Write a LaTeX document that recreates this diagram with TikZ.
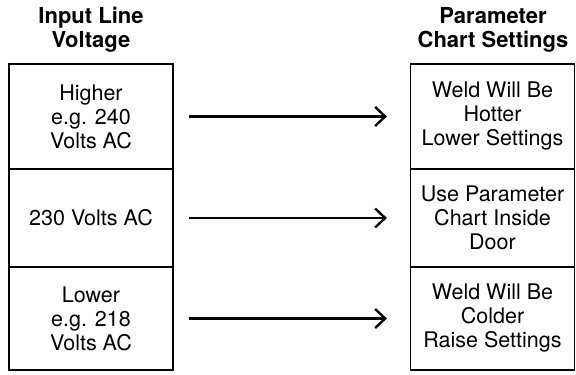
\documentclass[tikz,border=0pt]{standalone}
\usepackage{fontspec}
\setmainfont{TeX Gyre Heros}
\usetikzlibrary{arrows.meta}

\begin{document}
\begin{tikzpicture}[x=1pt,y=-1pt,
    cell/.style={draw, line width=1.2pt, minimum width=164pt, inner sep=0pt,
      align=center, font=\fontsize{21.5}{24}\selectfont},
    head/.style={align=center, font=\fontsize{22}{24}\selectfont\bfseries},
    flow/.style={line width=2.4pt, -{Straight Barb[length=10pt,width=19pt]},
      shorten <=15pt, shorten >=23pt}]
        \useasboundingbox (0,0) rectangle (576,375);

        \node[head] at (91,30) (HL) {Input Line\\Voltage};
        \node[head] at (493,30) (HR) {Parameter\\Chart Settings};

        \node[cell, minimum height=105pt] at (91,116.5) (L1) {Higher\\e.g. 240\\Volts AC};
        \node[cell, minimum height=98pt] at (91,218) (L2) {230 Volts AC};
        \node[cell, minimum height=103pt] at (91,318.5) (L3) {Lower\\e.g. 218\\Volts AC};
        \node[cell, minimum height=105pt] at (492.5,116.5) (R1) {Weld Will Be\\Hotter\\Lower Settings};
        \node[cell, minimum height=98pt] at (492.5,218) (R2) {Use Parameter\\Chart Inside\\Door};
        \node[cell, minimum height=103pt] at (492.5,318.5) (R3) {Weld Will Be\\Colder\\Raise Settings};

        \draw[flow] (L1) -- (R1);
        \draw[flow] (L2) -- (R2);
        \draw[flow] (L3) -- (R3);
      \end{tikzpicture}
\end{document}
